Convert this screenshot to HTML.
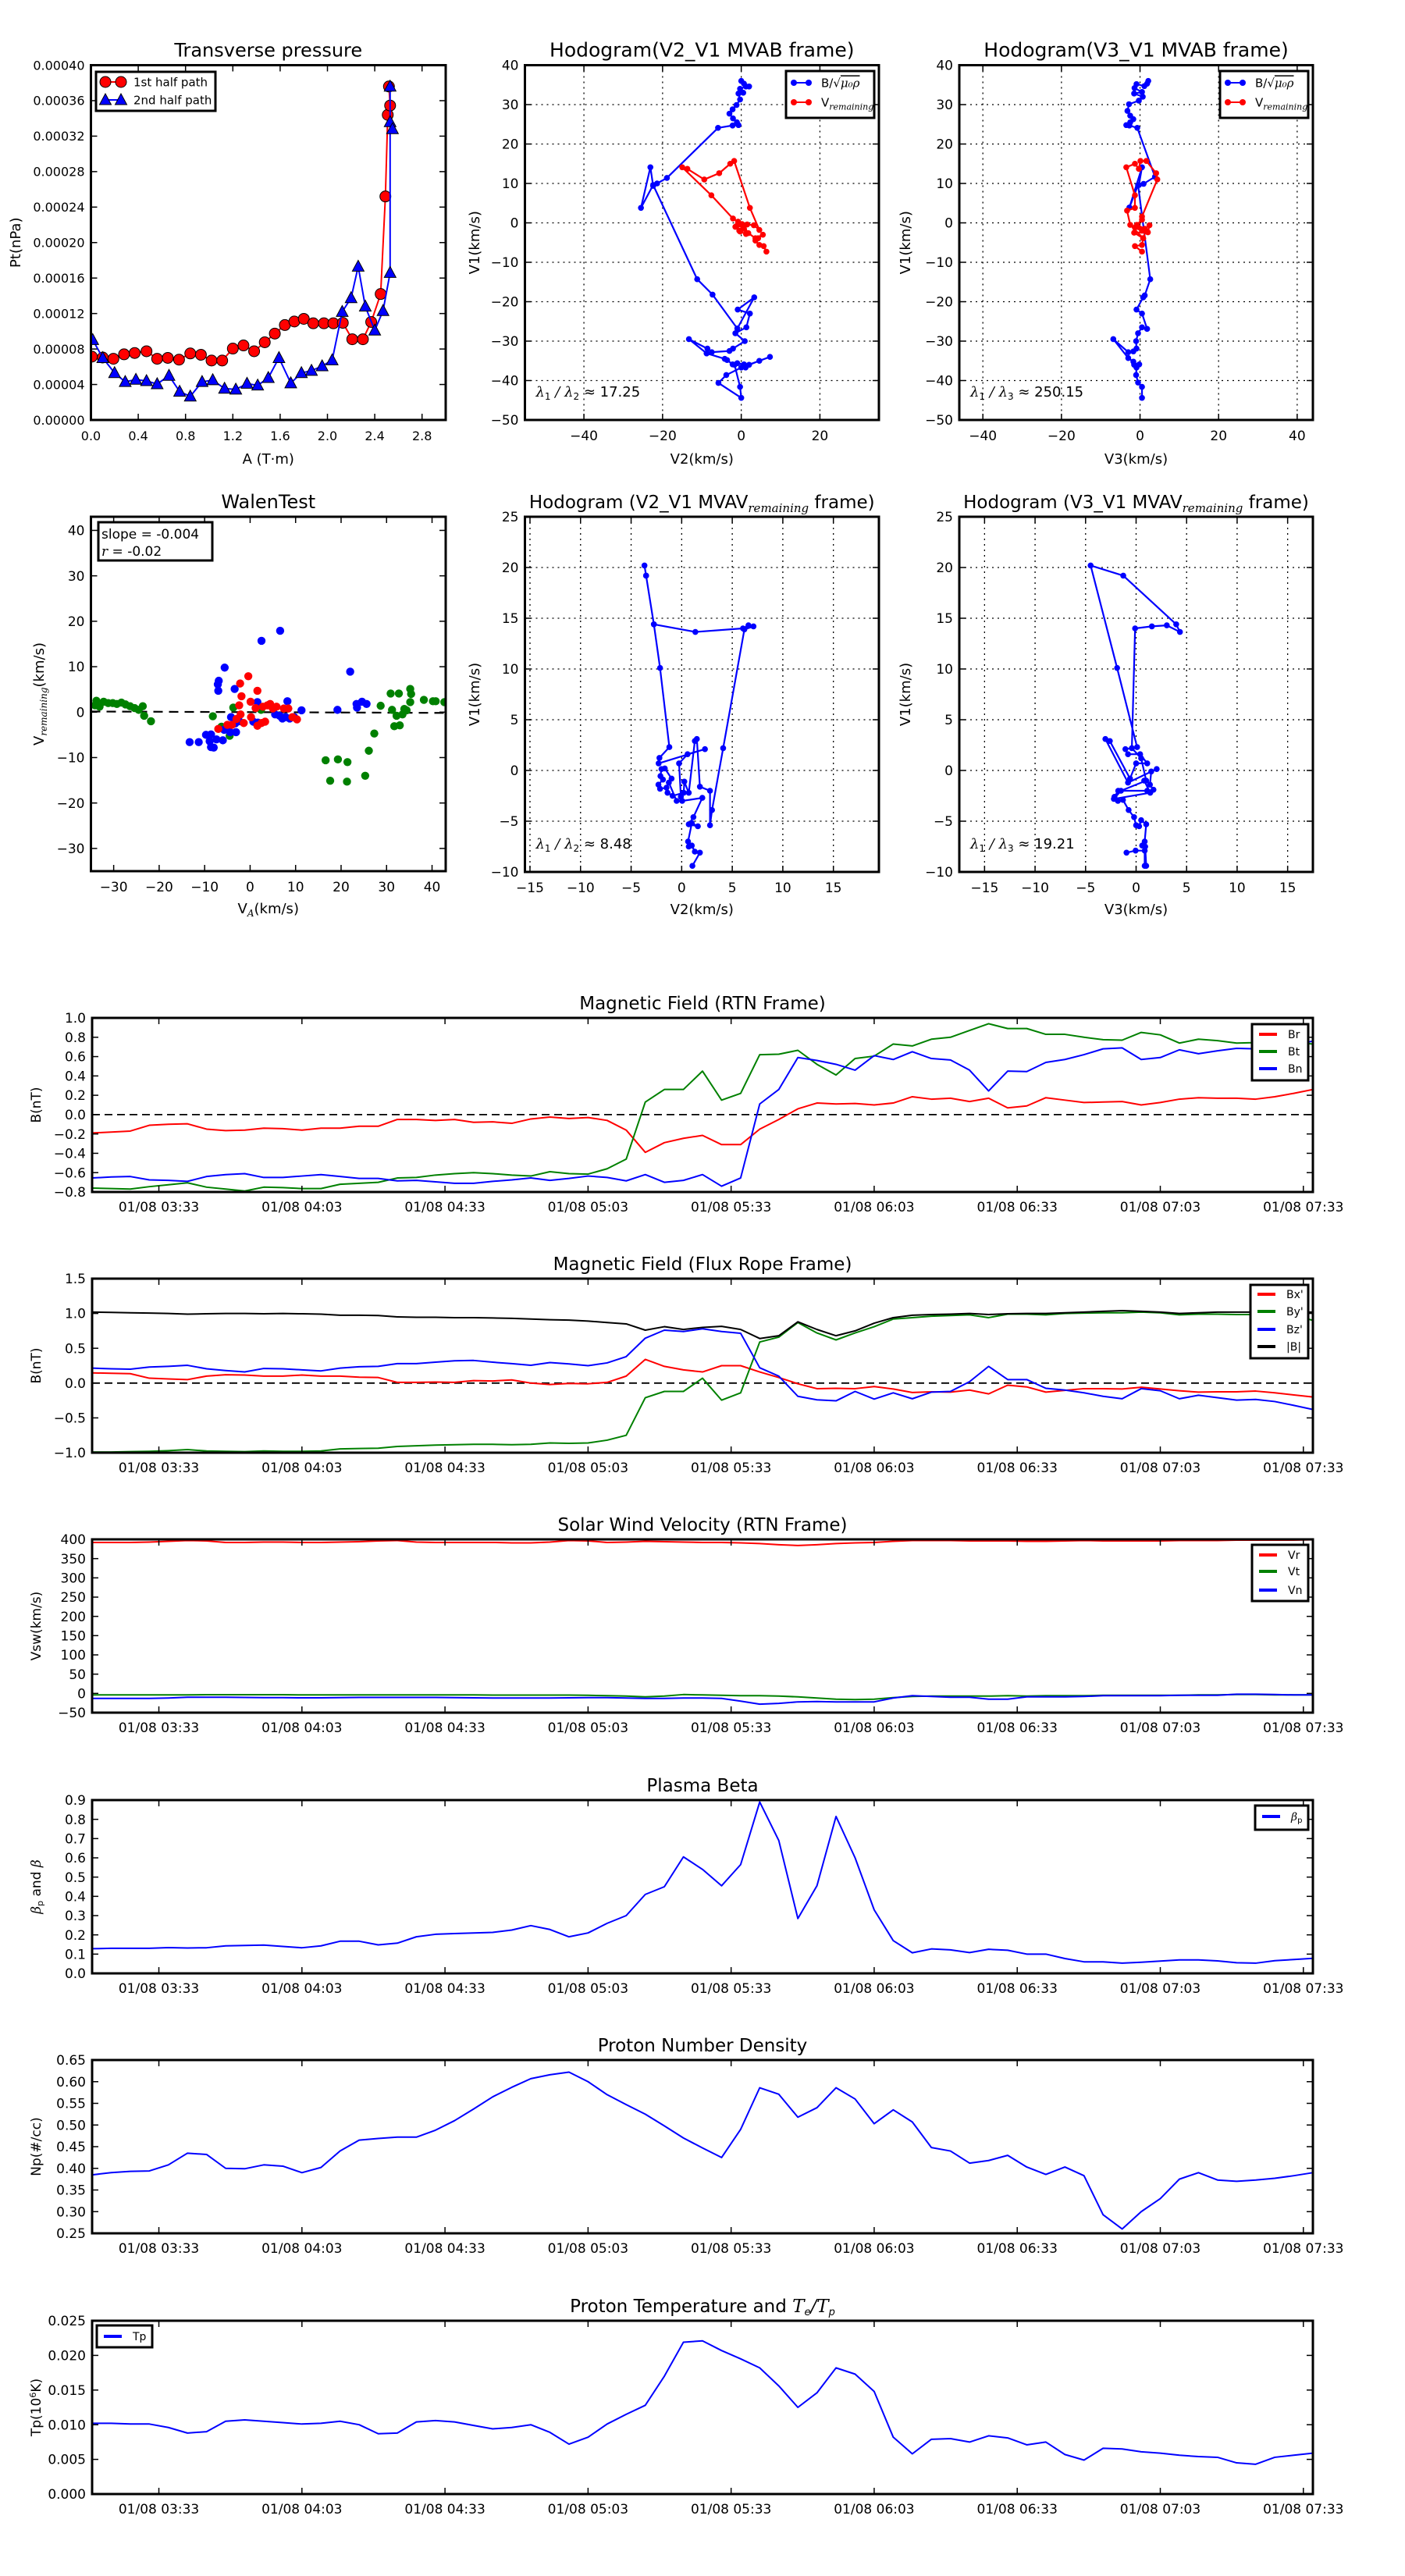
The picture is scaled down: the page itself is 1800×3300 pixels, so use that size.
<!DOCTYPE html>
<html><head><meta charset="utf-8"><title>Flux rope analysis</title>
<style>
html,body{margin:0;padding:0;background:#fff;}
svg{display:block;font-family:"DejaVu Sans","Liberation Sans",sans-serif;}
</style></head>
<body>
<svg id="fig" xmlns="http://www.w3.org/2000/svg" width="1800" height="3300" viewBox="0 0 1800 3300">
<rect x="0" y="0" width="1800" height="3300" fill="#fff"/>
</svg>
<script>
// ---------------- DATA ----------------
const pt1A=[0.008,0.10,0.19,0.28,0.37,0.47,0.56,0.65,0.745,0.84,0.93,1.02,1.11,1.20,1.29,1.38,1.47,1.555,1.64,1.72,1.80,1.88,1.97,2.05,2.13,2.21,2.30,2.37,2.45,2.49,2.51,2.53,2.52];
const pt1P=[7.14e-5,7.04e-5,6.9e-5,7.4e-5,7.55e-5,7.75e-5,6.9e-5,7.0e-5,6.8e-5,7.5e-5,7.35e-5,6.7e-5,6.7e-5,8.05e-5,8.4e-5,7.75e-5,8.76e-5,9.74e-5,1.07e-4,1.11e-4,1.14e-4,1.09e-4,1.09e-4,1.09e-4,1.095e-4,9.1e-5,9.1e-5,1.105e-4,1.42e-4,2.52e-4,3.44e-4,3.545e-4,3.76e-4];
const pt2A=[0.015,0.10,0.20,0.29,0.38,0.47,0.56,0.66,0.75,0.84,0.94,1.03,1.13,1.225,1.32,1.41,1.50,1.59,1.69,1.78,1.865,1.955,2.04,2.125,2.20,2.26,2.32,2.40,2.47,2.53,2.53,2.53,2.55];
const pt2P=[9.03e-5,7.0e-5,5.3e-5,4.3e-5,4.55e-5,4.4e-5,4.05e-5,5.0e-5,3.2e-5,2.66e-5,4.3e-5,4.5e-5,3.54e-5,3.44e-5,4.1e-5,3.9e-5,4.75e-5,7.0e-5,4.15e-5,5.3e-5,5.56e-5,6.07e-5,6.74e-5,1.22e-4,1.375e-4,1.73e-4,1.28e-4,1.01e-4,1.23e-4,1.66e-4,3.76e-4,3.36e-4,3.28e-4];
const pt1XTicks=[0.0,0.4,0.8,1.2,1.6,2.0,2.4,2.8];
const pt1XTickLabels=["0.0","0.4","0.8","1.2","1.6","2.0","2.4","2.8"];
const pt1YTicks=[0,4e-5,8e-5,1.2e-4,1.6e-4,2e-4,2.4e-4,2.8e-4,3.2e-4,3.6e-4,4e-4];
const pt1YTickLabels=["0.00000","0.00004","0.00008","0.00012","0.00016","0.00020","0.00024","0.00028","0.00032","0.00036","0.00040"];

const h1Bx=[0,0.7,2,1.2,-0.3,0.5,-0.7,-0.3,-1.2,-2.2,-3,-2.1,-1.1,-0.7,-2.2,-5.9,-18.9,-21.4,-22.4,-23.1,-25.5,-22.4,-11.2,-7.3,-1,3.3,-0.9,2.2,1.3,-1.5,0.9,-2.1,-3,-7.5,-8.8,-8.6,-13.3,-8.8,-4.2,-3.6,-2.2,-1,0.7,1.1,2,4.6,7.3,0,-3.8,-5.8,0,-0.3,-1.7];
const h1By=[36,35.3,34.6,34.6,34,33,32.8,31.3,29.9,28.8,27.7,26.5,25.5,24.8,24.7,24.1,11.4,10,9.4,14.1,3.8,9.6,-14.3,-18.2,-26.8,-18.9,-22,-23,-26.5,-28,-30,-31.9,-32.5,-32.8,-33.1,-31.9,-29.5,-33.1,-34.5,-34.8,-35.9,-35.6,-35.9,-36.7,-36,-35,-34,-36.7,-38.6,-40.6,-44.4,-41.6,-36];
const h1Vx=[0.7,-0.3,1.2,0.5,-1,-0.8,-2.1,-7.6,-15,-13.7,-9.4,-5.6,-2.8,-1.8,2.2,4.6,3.2,1.5,-0.5,-1.5,0.2,1.8,3.6,5.5,4.3,3.6,4.6,5.7,6.4];
const h1Vy=[-1.5,-2.2,-2.8,-1.2,-0.6,0.3,1.1,7,14.1,13.7,11,12.6,15,15.7,3.8,-1.8,-0.6,-0.4,-2,-1,-0.3,-2.6,-3.9,-3,-3.9,-4.5,-5.6,-5.9,-7.3];

const h2Bx=[2.1,1.8,1.1,-0.9,-1.4,0.5,-1.5,0.7,-0.3,-2.8,-3.2,-2.5,-1.7,-2.5,-3.5,-2.7,-0.7,3.8,0.9,-0.3,0.5,-2.7,-0.5,2.6,1.2,0.8,-0.9,0.5,1.8,0.5,-0.5,-1,-0.9,-1.7,-3,-6.8,-3,-1.7,-1.5,-0.2,-0.9,-1,-0.5,0.5,0.5];
const h2By=[36,35.3,34.7,35.2,34.2,33.2,32.8,32,31,30.1,28.4,27.2,26.3,25.5,24.8,24.7,24.1,11.7,9.9,9.6,14.1,3.9,9.6,-14.3,-18.4,-18.9,-22,-23,-26.9,-26.5,-28,-30,-31.9,-32.6,-32.8,-29.5,-34.3,-35.2,-36,-35.9,-36.7,-38.6,-40.5,-41.6,-44.4];
const h2Vx=[0.5,-1.3,0.5,-0.8,1.2,2.4,2,-1.5,0.8,-2.5,-3.3,-1.3,-1.3,-3.5,-1.3,-0.3,0.1,1.6,4.1,4.4,0.5,-0.6,1.5,0.8,0.5,-1.3,0.5];
const h2Vy=[-2,-1.2,0.8,-0.5,-1.5,-0.6,-2.4,-2.5,-3.9,-0.5,3.1,3.8,7,14.1,15,13.7,15.7,15.7,12.6,11,1.6,-1,-2,-3.9,-5.6,-5.9,-7.3];

const wGx=[-33.8,-34.1,-33.1,-32.2,-31.2,-30.2,-29.3,-28.3,-27.4,-26.4,-25.4,-24.5,-23.6,-23.3,-21.8,-8.2,-6.3,-4.5,-3.7,2.4,16.6,17.6,19.3,21.4,21.3,25.3,26.1,27.3,28.7,30.9,31.2,32.7,32.2,31.7,32.9,33.5,33.9,34.4,35.2,35.4,35.2,38.2,40.2,40.8,42.7];
const wGy=[2.5,1.5,1.2,2.3,2.0,2.0,1.8,2.1,1.7,1.3,0.9,0.5,1.3,-0.8,-2,-0.9,-3.2,-5.2,1,0.5,-10.6,-15.1,-10.4,-11,-15.3,-14,-8.5,-4.7,1.4,4.1,0.5,4.1,-0.8,-3.1,-2.9,-0.5,0.7,0.4,5.1,4,2.2,2.7,2.4,2.4,2.2];
const wBx=[-13.3,-11.3,-9.7,-8.6,-8.9,-8.6,-8.0,-7.4,-6,-7,-7.1,-6.9,-5.6,-3.4,-4.2,-3.3,-3.1,-4.4,-5.7,-2.4,1.6,0.7,1.7,2.5,6.6,5.5,6.5,7.1,7.8,8.2,8.7,9.7,11.3,19.2,22,23.5,23.4,24.6,25.6];
const wBy=[-6.6,-6.6,-5,-4.9,-6.4,-7.7,-7.8,-6.0,-6.2,4.7,6.1,6.9,9.8,5.1,-1.1,-2.5,-4.4,-4.4,-3.9,-2,2.2,-2.1,-2.3,15.7,17.9,-0.5,-0.8,-1.4,-1.1,2.4,-1.4,-1.1,0.4,0.5,8.9,1,1.8,2.3,1.8];
const wRx=[-7,-5,-4,-3,-2.2,-1.9,-2.4,-2.1,-1.4,-0.4,0.1,0.2,1.2,1.6,1.6,2.5,3.3,2.8,3.8,4.4,5,5.8,7.4,8.4,10.3,9.3];
const wRy=[-3.7,-2.8,-2.8,-1.5,6.3,3.5,1.5,-0.5,-2.4,7.9,2.3,-1.1,0.9,4.7,-3,-2.4,-2.1,1.2,1.5,1.8,0.8,1.2,0.8,0.8,-1.6,-1.1];
const walenSlope=-0.004;

const h3x=[-0.08,-0.26,0.58,2.3,-2.28,-2.2,-1.22,-2.14,-2.75,-3.52,-3.68,-3.52,-2.75,1.35,6.06,6.6,7.1,6.2,4.1,3.0,2.8,2.8,1.8,1.5,1.3,0.7,0.26,0.2,-0.9,-1.4,-1.5,-2.14,-2.3,-1.85,-2.1,-2,-1.67,-1.0,-1.27,-0.5,0.05,2.04,1.16,0.7,1.6,1.0,0.63,0.7,1.0,1.3,1.8,1.06];
const h3y=[-2.6,0.7,1.6,2.1,0.7,1.24,2.3,10.1,14.4,19.2,20.2,19.2,14.4,13.65,14,14.3,14.2,13.9,2.2,-3.9,-5.4,-2.0,-1.6,3.1,2.9,-2.2,-1.1,-2.2,-2.5,-2.2,-1.7,-1.8,-1.4,-0.9,-0.55,0.14,0.2,-0.8,-1.2,-3,-3,-2.7,-4.6,-5.3,-5.5,-5.2,-7,-7.5,-7.4,-8,-8.1,-9.4];

const h4x=[-0.95,-0.05,0.85,0.85,1,0.9,0.6,0.85,1,0.5,0.3,0,-0.2,-0.74,-1.3,-1.8,-2.14,-1.77,1.1,1.72,1.37,1.5,2.04,-0.8,-3.04,-2.6,-0.6,0,1.1,0.4,-0.8,-1.06,0.1,-1.88,-4.5,-1.27,3.97,4.34,3.04,1.56,-0.1,-0.42,0.5,1.0,-1.5,-2.2,1.4,0.8];
const h4y=[-8.1,-7.9,-7.9,-9.4,-9.4,-7.5,-7.4,-7,-5.3,-4.9,-5.5,-5.4,-4.6,-3.9,-2.9,-3,-2.6,-2,-2,-1.9,-1.4,-0.1,0.14,-1.2,3.1,2.9,-0.8,0.7,0.7,1.6,1.6,2.1,2.3,10.1,20.2,19.2,14.4,13.65,14.3,14.2,14,2.2,1.2,-1.0,-2.0,-2.8,-2.2,-1.0];

const tStartMin=199, tStepMin=4;
const timeTickMin=[213,243,273,303,333,363,393,423,453];
const timeTickLabels=["01/08 03:33","01/08 04:03","01/08 04:33","01/08 05:03","01/08 05:33","01/08 06:03","01/08 06:33","01/08 07:03","01/08 07:33"];

const brRTN=[-0.19,-0.18,-0.17,-0.11,-0.10,-0.095,-0.15,-0.165,-0.16,-0.14,-0.145,-0.16,-0.14,-0.14,-0.12,-0.12,-0.05,-0.05,-0.06,-0.05,-0.08,-0.075,-0.09,-0.045,-0.025,-0.04,-0.03,-0.06,-0.16,-0.39,-0.29,-0.245,-0.215,-0.31,-0.31,-0.15,-0.05,0.06,0.12,0.11,0.115,0.10,0.12,0.185,0.16,0.17,0.135,0.17,0.07,0.09,0.175,0.15,0.125,0.13,0.135,0.10,0.125,0.16,0.175,0.17,0.17,0.16,0.185,0.22,0.26];
const btRTN=[-0.76,-0.765,-0.77,-0.745,-0.725,-0.705,-0.75,-0.77,-0.79,-0.75,-0.755,-0.765,-0.765,-0.72,-0.71,-0.70,-0.655,-0.65,-0.625,-0.61,-0.60,-0.61,-0.625,-0.635,-0.59,-0.61,-0.615,-0.56,-0.46,0.13,0.26,0.26,0.45,0.15,0.22,0.62,0.625,0.665,0.52,0.41,0.58,0.605,0.73,0.71,0.78,0.80,0.87,0.94,0.89,0.89,0.83,0.83,0.80,0.775,0.77,0.85,0.825,0.74,0.78,0.765,0.74,0.745,0.76,0.75,0.73];
const bnRTN=[-0.655,-0.645,-0.64,-0.675,-0.68,-0.69,-0.64,-0.62,-0.61,-0.65,-0.65,-0.635,-0.62,-0.64,-0.66,-0.66,-0.685,-0.68,-0.695,-0.71,-0.71,-0.69,-0.675,-0.655,-0.68,-0.66,-0.635,-0.65,-0.685,-0.62,-0.70,-0.68,-0.62,-0.74,-0.655,0.11,0.26,0.59,0.56,0.52,0.46,0.61,0.57,0.65,0.58,0.565,0.46,0.245,0.45,0.445,0.54,0.57,0.62,0.68,0.69,0.57,0.59,0.67,0.63,0.66,0.685,0.68,0.70,0.72,0.76];

const bxFR=[0.147,0.14,0.135,0.07,0.06,0.05,0.10,0.12,0.115,0.10,0.10,0.115,0.10,0.10,0.085,0.08,0.01,0.01,0.015,0.01,0.035,0.03,0.045,0.0,-0.02,-0.005,-0.01,0.01,0.10,0.34,0.24,0.19,0.16,0.25,0.25,0.16,0.08,-0.01,-0.08,-0.075,-0.08,-0.05,-0.085,-0.135,-0.125,-0.13,-0.10,-0.155,-0.03,-0.055,-0.13,-0.105,-0.08,-0.08,-0.085,-0.06,-0.085,-0.11,-0.13,-0.125,-0.125,-0.115,-0.14,-0.17,-0.20];
const byFR=[-0.99,-0.99,-0.985,-0.98,-0.97,-0.955,-0.975,-0.98,-0.985,-0.975,-0.98,-0.98,-0.975,-0.945,-0.94,-0.935,-0.91,-0.9,-0.89,-0.885,-0.88,-0.88,-0.885,-0.88,-0.86,-0.865,-0.86,-0.82,-0.75,-0.21,-0.12,-0.12,0.07,-0.245,-0.14,0.59,0.66,0.87,0.72,0.62,0.72,0.81,0.92,0.94,0.96,0.97,0.98,0.94,0.99,0.99,0.98,1.0,1.005,1.01,1.01,1.02,1.01,0.98,0.99,0.99,0.985,0.985,0.99,0.98,0.90];
const bzFR=[0.215,0.205,0.2,0.23,0.24,0.255,0.205,0.18,0.16,0.21,0.205,0.19,0.175,0.215,0.235,0.24,0.28,0.28,0.30,0.32,0.325,0.3,0.28,0.255,0.295,0.275,0.25,0.29,0.38,0.645,0.76,0.74,0.78,0.74,0.715,0.22,0.1,-0.19,-0.24,-0.255,-0.12,-0.23,-0.14,-0.225,-0.13,-0.12,0.02,0.24,0.05,0.05,-0.075,-0.1,-0.14,-0.19,-0.225,-0.08,-0.11,-0.225,-0.175,-0.21,-0.245,-0.235,-0.265,-0.32,-0.38];
const bmFR=[1.02,1.015,1.01,1.005,1.0,0.99,0.995,1.0,1.0,0.995,1.0,0.995,0.99,0.975,0.975,0.97,0.95,0.945,0.945,0.94,0.94,0.935,0.93,0.92,0.91,0.905,0.89,0.87,0.85,0.76,0.81,0.77,0.80,0.815,0.77,0.64,0.68,0.88,0.77,0.68,0.75,0.86,0.94,0.975,0.985,0.99,1.0,0.985,0.995,1.0,1.0,1.01,1.02,1.03,1.04,1.03,1.02,1.0,1.01,1.02,1.02,1.02,1.02,1.02,1.02];

const vrRTN=[392,392,392,393,395,397,396,392,392,393,393,392,392,393,394,396,397,393,392,392,392,392,391,391,393,397,396,392,393,395,394,393,392,392,391,389,386,384,386,389,391,392,395,397,397,397,396,396,396,395,395,396,397,396,396,396,396,397,397,397,398,398,398,398,399];
const vtRTN=[-4,-4,-4,-4,-4,-4,-3.5,-3.5,-3.5,-3.5,-3.5,-4,-4,-4,-4,-4,-4,-4,-4,-4,-4,-4.5,-4.5,-4.5,-4.5,-4.5,-5,-6,-7,-9,-7,-3,-4,-5,-6,-6,-7,-9,-12,-15,-16,-15,-11,-8,-7,-7,-7,-7,-6,-7,-6,-6,-6,-5,-5,-5,-5,-5,-4,-4,-3,-3,-4,-4,-4];
const vnRTN=[-13,-13,-13,-13,-12,-10,-10,-10,-10.5,-11,-11,-11.5,-11.5,-11,-10.5,-10.5,-10.5,-10.5,-10.5,-11,-11.5,-12,-12,-12,-12,-11.5,-11,-11,-12,-13,-13,-12,-12,-13,-20,-28,-26,-22,-21,-22,-22,-22,-12,-6,-8,-10,-10,-15,-15,-9,-9,-9,-8,-6,-6,-6,-6,-5,-5,-5,-2,-2,-3,-4,-4];

const betaP=[0.128,0.13,0.13,0.13,0.134,0.132,0.133,0.143,0.145,0.147,0.14,0.133,0.143,0.167,0.167,0.148,0.157,0.19,0.203,0.207,0.21,0.213,0.225,0.248,0.228,0.19,0.21,0.26,0.30,0.41,0.45,0.605,0.54,0.455,0.565,0.89,0.69,0.285,0.455,0.815,0.6,0.33,0.17,0.107,0.127,0.122,0.108,0.125,0.12,0.1,0.1,0.077,0.06,0.06,0.053,0.058,0.064,0.07,0.07,0.065,0.055,0.053,0.066,0.072,0.078];
const npDens=[0.385,0.39,0.393,0.394,0.408,0.435,0.432,0.40,0.399,0.408,0.405,0.39,0.402,0.44,0.465,0.469,0.472,0.472,0.488,0.51,0.537,0.565,0.587,0.607,0.616,0.622,0.60,0.57,0.547,0.525,0.498,0.47,0.447,0.425,0.49,0.586,0.571,0.518,0.54,0.586,0.56,0.503,0.535,0.507,0.448,0.44,0.412,0.418,0.43,0.403,0.386,0.403,0.383,0.293,0.26,0.30,0.33,0.375,0.39,0.373,0.37,0.373,0.377,0.383,0.39];
const tpTemp=[0.0102,0.0102,0.0101,0.0101,0.0096,0.0088,0.009,0.0105,0.0107,0.0105,0.0103,0.0101,0.0102,0.0105,0.01,0.0087,0.0088,0.0104,0.0106,0.0104,0.0099,0.0094,0.0096,0.01,0.0089,0.0072,0.0082,0.0101,0.0115,0.0128,0.017,0.0219,0.0221,0.0207,0.0195,0.0182,0.0156,0.0125,0.0146,0.0182,0.0173,0.0148,0.0082,0.0058,0.0079,0.008,0.0075,0.0084,0.0081,0.0071,0.0075,0.0057,0.0049,0.0066,0.0065,0.0061,0.0059,0.0056,0.0054,0.0053,0.0045,0.0043,0.0053,0.0056,0.0059];

// ---------------- DRAWING ----------------
const NS='http://www.w3.org/2000/svg';
const svg=document.getElementById('fig');
let clipN=0;
function mk(tag,attrs,parent){const e=document.createElementNS(NS,tag);for(const k in attrs)e.setAttribute(k,attrs[k]);(parent||svg).appendChild(e);return e;}
function txt(str,attrs,parent){const e=mk('text',attrs,parent);e.textContent=str;return e;}
function pts(xs,ys,X,Y){let s='';for(let i=0;i<xs.length;i++)s+=X(xs[i]).toFixed(2)+','+Y(ys[i]).toFixed(2)+' ';return s;}

function axes(c){
  const g=mk('g',{});
  
  
  const X=v=>c.L+(v-c.xmin)/(c.xmax-c.xmin)*(c.R-c.L);
  const Y=v=>c.B-(v-c.ymin)/(c.ymax-c.ymin)*(c.B-c.T);
  const id='clip'+(clipN++);
  const cp=mk('clipPath',{id:id},g);
  mk('rect',{x:c.L,y:c.T,width:c.R-c.L,height:c.B-c.T},cp);
  if(c.grid){
    c.xticks.forEach(v=>{const l=mk('line',{x1:X(v),x2:X(v),y1:c.T,y2:c.B,stroke:'#000','stroke-width':1.3,'stroke-dasharray':'2,5'},g);
      
      });
    c.yticks.forEach(v=>{const l=mk('line',{x1:c.L,x2:c.R,y1:Y(v),y2:Y(v),stroke:'#000','stroke-width':1.3,'stroke-dasharray':'2,5'},g);
      
      });
  }
  const plot=mk('g',{'clip-path':'url(#'+id+')'},g);
  
  
  const ts=c.tickSize||17;
  c.xticks.forEach((v,i)=>{
    const x=X(v);
    const t1=mk('line',{x1:x,x2:x,y1:c.B,y2:c.B-8,stroke:'#000','stroke-width':1.5},g);
    
    
    const t2=mk('line',{x1:x,x2:x,y1:c.T,y2:c.T+8,stroke:'#000','stroke-width':1.5},g);
    
    
    const lb=txt(c.xtl[i],{x:x,y:c.B+(c.xlOff||26),'font-size':ts,'text-anchor':'middle'},g);
    
    
  });
  c.yticks.forEach((v,i)=>{
    const y=Y(v);
    const t1=mk('line',{x1:c.L,x2:c.L+8,y1:y,y2:y,stroke:'#000','stroke-width':1.5},g);
    
    
    const t2=mk('line',{x1:c.R,x2:c.R-8,y1:y,y2:y,stroke:'#000','stroke-width':1.5},g);
    
    
    const lb=txt(c.ytl[i],{x:c.L-8,y:y+ts*0.36,'font-size':ts,'text-anchor':'end'},g);
    
    
  });
  const fr=mk('rect',{x:c.L,y:c.T,width:c.R-c.L,height:c.B-c.T,fill:'none',stroke:'#000','stroke-width':3},g);
  
  
  if(c.title){
    const t=mk('text',{x:(c.L+c.R)/2,y:c.T-(c.titleOff||11),'font-size':c.titleSize||23,'text-anchor':'middle'},g);
    t.innerHTML=c.title;
    
    
  }
  if(c.xlabel){
    const t=mk('text',{x:(c.L+c.R)/2,y:c.B+(c.xlabOff||56),'font-size':c.labSize||18,'text-anchor':'middle'},g);
    t.innerHTML=c.xlabel;
    
    
  }
  if(c.ylabel){
    const my=(c.T+c.B)/2;
    const t=mk('text',{x:c.ylx,y:my,'font-size':c.labSize||18,'text-anchor':'middle',transform:'rotate(-90 '+c.ylx+' '+my+')'},g);
    t.innerHTML=c.ylabel;
    
    
  }
  return {g,plot,X,Y};
}

function legendBox(x,y,w,h,parent){
  const r=mk('rect',{x:x,y:y,width:w,height:h,fill:'#fff',stroke:'#000','stroke-width':3},parent);
  
  
}
function legendEntry(x1,x2,y,color,label,lx,size,parent,marker){
  const g=mk('g',{},parent);
  
  
  mk('line',{x1:x1,x2:x2,y1:y,y2:y,stroke:color,'stroke-width':marker?2:4},g);
  if(marker==='circle'){[x1,x2].forEach(px=>mk('circle',{cx:px,cy:y,r:7,fill:color,stroke:'#000','stroke-width':1},g));}
  if(marker==='dot'){[x1,x2].forEach(px=>mk('circle',{cx:px,cy:y,r:4,fill:color},g));}
  if(marker==='tri'){[x1,x2].forEach(px=>mk('polygon',{points:(px)+','+(y-8)+' '+(px-7.5)+','+(y+6)+' '+(px+7.5)+','+(y+6),fill:color,stroke:'#000','stroke-width':1},g));}
  const t=mk('text',{x:lx,y:y+size*0.36,'font-size':size},g);
  t.innerHTML=label;
}

// ---- Panel 1: Transverse pressure ----
(function(){
  const a=axes({name:'transverse-pressure-chart',L:116.5,R:571,T:83.5,B:538,xmin:0,xmax:3.0,ymin:0,ymax:4e-4,
    xticks:pt1XTicks,xtl:pt1XTickLabels,yticks:pt1YTicks,ytl:pt1YTickLabels,
    title:'Transverse pressure',titleSize:24,xlabel:'A (T·m)',ylabel:'Pt(nPa)',ylx:26,tickSize:16});
  const l1=mk('polyline',{points:pts(pt1A,pt1P,a.X,a.Y),fill:'none',stroke:'#f00','stroke-width':2},a.plot);
  
  
  pt1A.forEach((v,i)=>{const c=mk('circle',{cx:a.X(v),cy:a.Y(pt1P[i]),r:7,fill:'#f00',stroke:'#000','stroke-width':1},a.plot);
    
    });
  const l2=mk('polyline',{points:pts(pt2A,pt2P,a.X,a.Y),fill:'none',stroke:'#00f','stroke-width':2},a.plot);
  
  
  pt2A.forEach((v,i)=>{const x=a.X(v),y=a.Y(pt2P[i]);
    const p=mk('polygon',{points:x+','+(y-8)+' '+(x-7.5)+','+(y+6)+' '+(x+7.5)+','+(y+6),fill:'#00f',stroke:'#000','stroke-width':1},a.plot);
    
    });
  legendBox(123,92,153,50,a.g);
  legendEntry(135,155,105,'#f00','1st half path',171,15,a.g,'circle');
  legendEntry(135,155,128,'#00f','2nd half path',171,15,a.g,'tri');
})();

function hodo(c,series,lam){
  const a=axes(c);
  series.forEach(s=>{
    const l=mk('polyline',{points:pts(s.x,s.y,a.X,a.Y),fill:'none',stroke:s.color,'stroke-width':2.2,'stroke-linejoin':'round'},a.plot);
    
    
    s.x.forEach((v,i)=>{const d=mk('circle',{cx:a.X(v),cy:a.Y(s.y[i]),r:3.8,fill:s.color},a.plot);
      
      });
  });
  const t=mk('text',{x:c.L+14,y:c.B-30,'font-size':18},a.g);
  t.innerHTML=lam;
  
  
  return a;
}
const lamHTML=(a,b,v)=>'<tspan font-family="DejaVu Serif,serif" font-style="italic">λ</tspan><tspan font-size="12" dy="4">'+a+'</tspan><tspan dy="-4" font-family="DejaVu Serif,serif" font-style="italic"> / λ</tspan><tspan font-size="12" dy="4">'+b+'</tspan><tspan dy="-4"> ≈ '+v+'</tspan>';
const hodoYT=[-50,-40,-30,-20,-10,0,10,20,30,40];
const hodoYTL=["−50","−40","−30","−20","−10","0","10","20","30","40"];
const bLabel='B/√<tspan text-decoration="overline" font-family="DejaVu Serif,serif" font-style="italic">μ₀ρ</tspan>';
const vLabel='V<tspan font-family="DejaVu Serif,serif" font-style="italic" font-size="11" dy="4">remaining</tspan>';

(function(){
  const a=hodo({name:'hodogram-v2-v1-mvab',L:672.5,R:1126,T:83.5,B:538,xmin:-55,xmax:35,ymin:-50,ymax:40,grid:true,
    xticks:[-40,-20,0,20],xtl:["−40","−20","0","20"],yticks:hodoYT,ytl:hodoYTL,titleSize:25,
    title:'Hodogram(V2_V1 MVAB frame)',xlabel:'V2(km/s)',ylabel:'V1(km/s)',ylx:614},
    [{x:h1Bx,y:h1By,color:'#00f',name:'b-alfven'},{x:h1Vx,y:h1Vy,color:'#f00',name:'v-remaining'}],lamHTML('1','2','17.25'));
  legendBox(1007,91,113,60,a.g);
  legendEntry(1017,1036,106,'#00f',bLabel,1052,15,a.g,'dot');
  legendEntry(1017,1036,131,'#f00',vLabel,1052,15,a.g,'dot');
})();
(function(){
  const a=hodo({name:'hodogram-v3-v1-mvab',L:1229,R:1682,T:83.5,B:538,xmin:-46,xmax:44,ymin:-50,ymax:40,grid:true,
    xticks:[-40,-20,0,20,40],xtl:["−40","−20","0","20","40"],yticks:hodoYT,ytl:hodoYTL,titleSize:25,
    title:'Hodogram(V3_V1 MVAB frame)',xlabel:'V3(km/s)',ylabel:'V1(km/s)',ylx:1166},
    [{x:h2Bx,y:h2By,color:'#00f',name:'b-alfven'},{x:h2Vx,y:h2Vy,color:'#f00',name:'v-remaining'}],lamHTML('1','3','250.15'));
  legendBox(1563,91,113,60,a.g);
  legendEntry(1573,1592,106,'#00f',bLabel,1608,15,a.g,'dot');
  legendEntry(1573,1592,131,'#f00',vLabel,1608,15,a.g,'dot');
})();

// ---- Walen test ----
(function(){
  const wt=[-30,-20,-10,0,10,20,30,40], wtl=["−30","−20","−10","0","10","20","30","40"];
  const a=axes({name:'walen-test-chart',L:116.5,R:571,T:662,B:1116,xmin:-35,xmax:43,ymin:-35,ymax:43,
    xticks:wt,xtl:wtl,yticks:wt,ytl:wtl,title:'WalenTest',titleSize:24,xlabel:'V<tspan font-family="DejaVu Serif,serif" font-style="italic" font-size="12" dy="4">A</tspan><tspan dy="-4">(km/s)</tspan>',
    ylabel:'V<tspan font-family="DejaVu Serif,serif" font-style="italic" font-size="12" dy="4">remaining</tspan><tspan dy="-4">(km/s)</tspan>',ylx:56,xlabOff:54});
  const dl=mk('line',{x1:a.X(-35),x2:a.X(43),y1:a.Y(walenSlope*-35),y2:a.Y(walenSlope*43),stroke:'#000','stroke-width':2.2,'stroke-dasharray':'12,8'},a.plot);
  
  
  [[wGx,wGy,'#008000','green'],[wBx,wBy,'#00f','blue'],[wRx,wRy,'#f00','red']].forEach(s=>{
    s[0].forEach((v,i)=>{const c=mk('circle',{cx:a.X(v),cy:a.Y(s[1][i]),r:5.2,fill:s[2]},a.plot);
      
      });
  });
  legendBox(126,669,146,49,a.g);
  const t=mk('text',{x:130,y:690,'font-size':17},a.g);
  t.textContent='slope = -0.004';
  
  
  const t2=mk('text',{x:130,y:712,'font-size':17},a.g);
  t2.innerHTML='<tspan font-family="DejaVu Serif,serif" font-style="italic">r</tspan> = -0.02';
  
  
})();

const h2YT=[-10,-5,0,5,10,15,20,25], h2YTL=["−10","−5","0","5","10","15","20","25"];
hodo({name:'hodogram-v2-v1-mvav',L:672.5,R:1126,T:662,B:1117,xmin:-15.5,xmax:19.5,ymin:-10,ymax:25,grid:true,
  xticks:[-15,-10,-5,0,5,10,15],xtl:["−15","−10","−5","0","5","10","15"],yticks:h2YT,ytl:h2YTL,titleSize:23,
  title:'Hodogram (V2_V1 MVAV<tspan font-family="DejaVu Serif,serif" font-style="italic" font-size="15" dy="5">remaining</tspan><tspan dy="-5"> frame)</tspan>',xlabel:'V2(km/s)',ylabel:'V1(km/s)',ylx:614,xlabOff:54},
  [{x:h3x,y:h3y,color:'#00f',name:'v-remaining'}],lamHTML('1','2','8.48'));
hodo({name:'hodogram-v3-v1-mvav',L:1229,R:1682,T:662,B:1117,xmin:-17.5,xmax:17.5,ymin:-10,ymax:25,grid:true,
  xticks:[-15,-10,-5,0,5,10,15],xtl:["−15","−10","−5","0","5","10","15"],yticks:h2YT,ytl:h2YTL,titleSize:23,
  title:'Hodogram (V3_V1 MVAV<tspan font-family="DejaVu Serif,serif" font-style="italic" font-size="15" dy="5">remaining</tspan><tspan dy="-5"> frame)</tspan>',xlabel:'V3(km/s)',ylabel:'V1(km/s)',ylx:1166,xlabOff:54},
  [{x:h4x,y:h4y,color:'#00f',name:'v-remaining'}],lamHTML('1','3','19.21'));

// ---- Time series ----
function tsPanel(c){
  const tEnd=tStartMin+tStepMin*(c.series[0].v.length-1);
  const a=axes({name:c.name,L:118,R:1682,T:c.T,B:c.B,xmin:tStartMin,xmax:tEnd,ymin:c.ymin,ymax:c.ymax,
    xticks:timeTickMin,xtl:timeTickLabels,yticks:c.yt,ytl:c.ytl,title:c.title,ylabel:c.ylabel,ylx:52,
    tickSize:17,titleSize:23,titleOff:11,xlOff:25,labSize:17});
  if(c.zero){const z=mk('line',{x1:118,x2:1682,y1:a.Y(0),y2:a.Y(0),stroke:'#000','stroke-width':1.8,'stroke-dasharray':'10,6'},a.plot);
    
    }
  c.series.forEach(s=>{
    const xs=[];for(let i=0;i<s.v.length;i++)xs.push(tStartMin+tStepMin*i);
    const l=mk('polyline',{points:pts(xs,s.v,a.X,a.Y),fill:'none',stroke:s.color,'stroke-width':2,'stroke-linejoin':'round'},a.plot);
    
    
  });
  const lg=c.legend;
  if(lg){
    legendBox(lg.x,lg.y,lg.w,lg.h,a.g);
    c.series.forEach((s,i)=>legendEntry(lg.x+9,lg.x+32,lg.ys[i],s.color,s.label,lg.x+46,14,a.g));
  }
}
tsPanel({name:'magnetic-field-rtn-chart',T:1304,B:1527,ymin:-0.8,ymax:1.0,
  yt:[-0.8,-0.6,-0.4,-0.2,0,0.2,0.4,0.6,0.8,1.0],ytl:["−0.8","−0.6","−0.4","−0.2","0.0","0.2","0.4","0.6","0.8","1.0"],
  title:'Magnetic Field (RTN Frame)',ylabel:'B(nT)',zero:true,
  series:[{v:brRTN,color:'#f00',name:'br',label:'Br'},{v:btRTN,color:'#008000',name:'bt',label:'Bt'},{v:bnRTN,color:'#00f',name:'bn',label:'Bn'}],
  legend:{x:1604,y:1312,w:72,h:72,ys:[1325,1347,1369]}});
tsPanel({name:'magnetic-field-flux-rope-chart',T:1638,B:1861,ymin:-1.0,ymax:1.5,
  yt:[-1,-0.5,0,0.5,1,1.5],ytl:["−1.0","−0.5","0.0","0.5","1.0","1.5"],
  title:'Magnetic Field (Flux Rope Frame)',ylabel:'B(nT)',zero:true,
  series:[{v:bxFR,color:'#f00',name:'bx',label:"Bx'"},{v:byFR,color:'#008000',name:'by',label:"By'"},{v:bzFR,color:'#00f',name:'bz',label:"Bz'"},{v:bmFR,color:'#000',name:'b-magnitude',label:'|B|'}],
  legend:{x:1602,y:1646,w:74,h:94,ys:[1658,1680,1703,1725]}});
tsPanel({name:'solar-wind-velocity-chart',T:1972,B:2194,ymin:-50,ymax:400,
  yt:[-50,0,50,100,150,200,250,300,350,400],ytl:["−50","0","50","100","150","200","250","300","350","400"],
  title:'Solar Wind Velocity (RTN Frame)',ylabel:'Vsw(km/s)',zero:false,
  series:[{v:vrRTN,color:'#f00',name:'vr',label:'Vr'},{v:vtRTN,color:'#008000',name:'vt',label:'Vt'},{v:vnRTN,color:'#00f',name:'vn',label:'Vn'}],
  legend:{x:1604,y:1979,w:72,h:72,ys:[1992,2013,2037]}});
tsPanel({name:'plasma-beta-chart',T:2306,B:2528,ymin:0,ymax:0.9,
  yt:[0,0.1,0.2,0.3,0.4,0.5,0.6,0.7,0.8,0.9],ytl:["0.0","0.1","0.2","0.3","0.4","0.5","0.6","0.7","0.8","0.9"],
  title:'Plasma Beta',ylabel:'<tspan font-family="DejaVu Serif,serif" font-style="italic">β</tspan><tspan font-size="11" dy="3">p</tspan><tspan dy="-3"> and </tspan><tspan font-family="DejaVu Serif,serif" font-style="italic">β</tspan>',zero:false,
  series:[{v:betaP,color:'#00f',name:'beta-p',label:'<tspan font-family="DejaVu Serif,serif" font-style="italic">β</tspan><tspan font-size="10" dy="3">p</tspan>'}],
  legend:{x:1608,y:2313,w:68,h:31,ys:[2327]}});
tsPanel({name:'proton-density-chart',T:2639,B:2861,ymin:0.25,ymax:0.65,
  yt:[0.25,0.30,0.35,0.40,0.45,0.50,0.55,0.60,0.65],ytl:["0.25","0.30","0.35","0.40","0.45","0.50","0.55","0.60","0.65"],
  title:'Proton Number Density',ylabel:'Np(#/cc)',zero:false,
  series:[{v:npDens,color:'#00f',name:'np',label:''}],legend:null});
tsPanel({name:'proton-temperature-chart',T:2973,B:3195,ymin:0,ymax:0.025,
  yt:[0,0.005,0.010,0.015,0.020,0.025],ytl:["0.000","0.005","0.010","0.015","0.020","0.025"],
  title:'Proton Temperature and <tspan font-family="DejaVu Serif,serif" font-style="italic">T</tspan><tspan font-size="13" dy="4" font-style="italic">e</tspan><tspan dy="-4" font-family="DejaVu Serif,serif" font-style="italic">/T</tspan><tspan font-size="13" dy="4" font-style="italic">p</tspan>',
  ylabel:'Tp(10<tspan font-size="11" dy="-6">6</tspan><tspan dy="6">K)</tspan>',zero:false,
  series:[{v:tpTemp,color:'#00f',name:'tp',label:'Tp'}],
  legend:{x:124,y:2979,w:71,h:28,ys:[2993]}});
</script>
</body></html>
